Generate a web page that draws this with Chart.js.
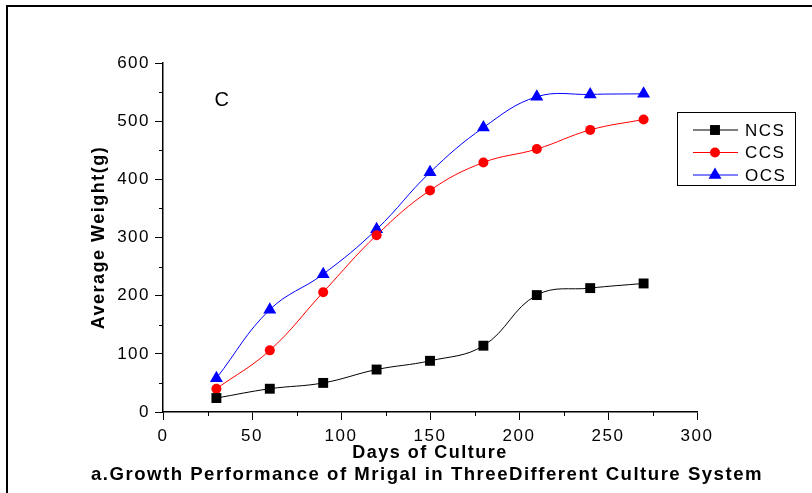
<!DOCTYPE html>
<html lang="en">
<head>
  <meta charset="UTF-8" />
  <title>Growth Performance of Mrigal</title>
  <script src="https://cdn.jsdelivr.net/npm/chart.js"></script>
  <style>
    body {
      margin: 0;
      background: white;
    }
    canvas {
      display: block;
    }
  </style>
</head>
<body>
  <canvas id="growthChart" width="812" height="493"></canvas>

  <script>
    // values
    const days = [30, 60, 90, 120, 150, 180, 210, 240, 270];
    const ncs = [24, 40, 50, 73, 88, 114, 201, 213, 221];
    const ccs = [40, 106, 206, 304, 381, 429, 452, 485, 503];
    const ocs = [58, 176, 237, 314, 412, 489, 542, 546, 547];

    const xTicks = [0, 50, 100, 150, 200, 250, 300];
    const yTicks = [0, 100, 200, 300, 400, 500, 600];
    const xMinor = [25, 75, 125, 175, 225, 275];
    const yMinor = [50, 150, 250, 350, 450, 550];

    const caption = "a.Growth Performance of Mrigal in ThreeDifferent Culture System";

    const FONT = "'Liberation Sans', Arial, sans-serif";
    const SPACING = "1.5px";

    const toPoints = vals => vals.map((v, i) => ({ x: days[i], y: v }));

    // canvas letter spacing, so the text gets the wide look of the original
    const spacingPlugin = {
      id: "spacing",
      beforeUpdate(chart) { chart.ctx.letterSpacing = SPACING; },
      beforeDraw(chart) { chart.ctx.letterSpacing = SPACING; }
    };

    const framePlugin = {
      id: "frame",
      beforeDraw(chart) {
        const ctx = chart.ctx;
        ctx.save();
        ctx.fillStyle = "white";
        ctx.fillRect(0, 0, chart.width, chart.height);
        ctx.strokeStyle = "black";
        ctx.lineWidth = 2;
        ctx.beginPath();
        ctx.moveTo(7, chart.height);
        ctx.lineTo(7, 6);
        ctx.lineTo(chart.width, 6);
        ctx.stroke();
        ctx.restore();
      }
    };

    // short minor ticks, the "C" panel mark, the caption and the boxed legend
    const extrasPlugin = {
      id: "extras",
      afterDraw(chart) {
        const ctx = chart.ctx;
        const x = chart.scales.x;
        const y = chart.scales.y;
        ctx.save();
        ctx.strokeStyle = "black";
        ctx.lineWidth = 1;
        ctx.beginPath();
        xMinor.forEach(v => {
          const px = Math.round(x.getPixelForValue(v)) + 0.5;
          ctx.moveTo(px, y.bottom);
          ctx.lineTo(px, y.bottom + 4);
        });
        yMinor.forEach(v => {
          const py = Math.round(y.getPixelForValue(v)) + 0.5;
          ctx.moveTo(x.left, py);
          ctx.lineTo(x.left - 4, py);
        });
        ctx.stroke();

        ctx.letterSpacing = SPACING;
        ctx.fillStyle = "black";
        ctx.textBaseline = "middle";
        ctx.font = "20px " + FONT;
        ctx.fillText("C", x.getPixelForValue(29), y.getPixelForValue(535));

        ctx.font = "bold 18.6px " + FONT;
        ctx.textAlign = "center";
        ctx.fillText(caption, 427, 475);
        ctx.textAlign = "left";

        // legend
        const box = { left: 677, top: 112, width: 118, height: 73 };
        ctx.strokeRect(box.left + 0.5, box.top + 0.5, box.width, box.height);
        ctx.font = "17px " + FONT;
        chart.data.datasets.forEach((ds, i) => {
          const rowY = 130 + i * 22.5;
          ctx.strokeStyle = ds.borderColor;
          ctx.beginPath();
          ctx.moveTo(693, rowY);
          ctx.lineTo(738, rowY);
          ctx.stroke();
          ctx.fillStyle = ds.pointBackgroundColor;
          Chart.helpers.drawPoint(ctx, {
            pointStyle: ds.pointStyle,
            radius: ds.pointRadius,
            rotation: 0,
            borderWidth: 0
          }, 715, rowY);
          ctx.fillStyle = "black";
          ctx.fillText(ds.label, 745, rowY + 1);
        });
        ctx.restore();
      }
    };

    const chart = new Chart(document.getElementById("growthChart"), {
      type: "line",
      data: {
        datasets: [
          {
            label: "NCS",
            data: toPoints(ncs),
            borderColor: "#000000",
            pointBackgroundColor: "#000000",
            pointBorderColor: "#000000",
            pointStyle: "rect",
            pointRadius: 7
          },
          {
            label: "CCS",
            data: toPoints(ccs),
            borderColor: "#ff0000",
            pointBackgroundColor: "#ff0000",
            pointBorderColor: "#ff0000",
            pointStyle: "circle",
            pointRadius: 5
          },
          {
            label: "OCS",
            data: toPoints(ocs),
            borderColor: "#0000ff",
            pointBackgroundColor: "#0000ff",
            pointBorderColor: "#0000ff",
            pointStyle: "triangle",
            pointRadius: 7.5
          }
        ]
      },
      options: {
        responsive: false,
        animation: false,
        devicePixelRatio: 1,
        layout: { padding: { top: 63, right: 115, left: 0, bottom: 28 } },
        elements: {
          line: { borderWidth: 1, tension: 0.4, fill: false },
          point: { borderWidth: 0, hoverRadius: 7 }
        },
        plugins: {
          legend: { display: false },
          tooltip: { enabled: false }
        },
        scales: {
          x: {
            type: "linear",
            min: 0,
            max: 300,
            afterBuildTicks: s => { s.ticks = xTicks.map(v => ({ value: v })); },
            afterFit: s => { s.height = 53; },
            ticks: {
              color: "black",
              padding: 6,
              maxRotation: 0,
              font: { family: FONT, size: 17 }
            },
            grid: {
              drawOnChartArea: false,
              drawTicks: true,
              tickLength: 8,
              color: "black"
            },
            border: { display: true, color: "black", width: 1.5 },
            title: {
              display: true,
              text: "Days of Culture",
              color: "black",
              font: { family: FONT, size: 18, weight: "bold", lineHeight: 1.2 },
              padding: { top: 0, bottom: 1 }
            }
          },
          y: {
            min: 0,
            max: 600,
            afterBuildTicks: s => { s.ticks = yTicks.map(v => ({ value: v })); },
            afterFit: s => { s.width = 163; },
            ticks: {
              color: "black",
              padding: 5,
              font: { family: FONT, size: 17 }
            },
            grid: {
              drawOnChartArea: false,
              drawTicks: true,
              tickLength: 8,
              color: "black"
            },
            border: { display: true, color: "black", width: 1.5 },
            title: {
              display: true,
              text: "Average Weight(g)",
              color: "black",
              font: { family: FONT, size: 18, weight: "bold", lineHeight: 1.2 },
              padding: { top: 88, bottom: 0 }
            }
          }
        }
      },
      plugins: [spacingPlugin, framePlugin, extrasPlugin]
    });
  </script>
</body>
</html>
